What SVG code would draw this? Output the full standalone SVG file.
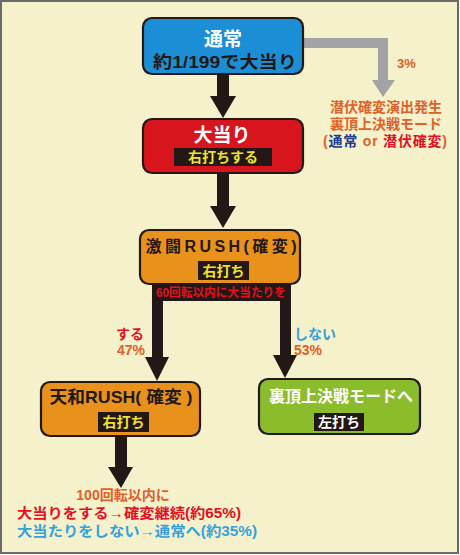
<svg xmlns="http://www.w3.org/2000/svg" width="460" height="555" viewBox="0 0 460 555">
<style>
text{font-family:"Liberation Sans","Noto Sans CJK JP",sans-serif;font-weight:bold;}
.node{stroke:#231815;stroke-width:2.2;}
.lbl{fill:#231815;}
.yl{fill:#F1E32B;font-size:14px;}
.wl{fill:#ffffff;font-size:14px;}
.ar{fill:#231815;}
.or{fill:#E0602A;}
.rd{fill:#E50F1F;}
.bl{fill:#35A2DD;}
</style>
<rect x="1" y="1" width="457" height="552" fill="#F4F1CB" stroke="#6b6b6b" stroke-width="2"/>

<g id="connectors">
  <polygon points="303,38 388,38 388,80 395,80 383,97 372,80 378,80 378,48 303,48" fill="#A3A3A3"/>
  <rect class="ar" x="217" y="74" width="12" height="23"/>
  <polygon class="ar" points="210,96 236,96 223,118"/>
  <rect class="ar" x="217" y="173" width="12" height="34"/>
  <polygon class="ar" points="210,206 236,206 223,228"/>
  <rect class="ar" x="152" y="284" width="139" height="17"/>
  <rect class="ar" x="152" y="300" width="11" height="58"/>
  <polygon class="ar" points="145,357 169,357 157,381"/>
  <rect class="ar" x="280" y="300" width="11" height="56"/>
  <polygon class="ar" points="273,355 297,355 285,378"/>
  <rect class="ar" x="115" y="436" width="12" height="32"/>
  <polygon class="ar" points="108,467 133,467 121,488"/>
  <text x="221" y="297" text-anchor="middle" font-size="12" class="rd" textLength="130" lengthAdjust="spacingAndGlyphs">60回転以内に大当たりを</text>
  <text x="397" y="68" font-size="13" class="or">3%</text>
  <text x="144" y="339" text-anchor="end" font-size="14" class="rd">する</text>
  <text x="145" y="355" text-anchor="end" font-size="14" class="or">47%</text>
  <text x="294" y="339" font-size="14" class="bl">しない</text>
  <text x="294" y="355" font-size="14" class="or">53%</text>
</g>

<g id="node-normal">
  <rect class="node" x="143" y="18" width="160" height="56" rx="9" fill="#1C8ED6"/>
  <text x="223" y="46" text-anchor="middle" font-size="19" fill="#ffffff">通常</text>
  <text x="225" y="68" text-anchor="middle" font-size="17" class="lbl" textLength="144" lengthAdjust="spacingAndGlyphs">約1/199で大当り</text>
</g>

<g id="node-senpuku">
  <text x="386" y="112" text-anchor="middle" font-size="14" class="or" textLength="112" lengthAdjust="spacingAndGlyphs">潜伏確変演出発生</text>
  <text x="386" y="129" text-anchor="middle" font-size="14" class="or" textLength="112" lengthAdjust="spacingAndGlyphs">裏頂上決戦モード</text>
  <text x="385" y="146" text-anchor="middle" font-size="14" class="or" textLength="124" lengthAdjust="spacing"><tspan>(</tspan><tspan fill="#1D3D94">通常</tspan><tspan> or </tspan><tspan fill="#E50F1F">潜伏確変</tspan><tspan>)</tspan></text>
</g>

<g id="node-oatari">
  <rect class="node" x="143" y="119" width="160" height="54" rx="9" fill="#D8141C"/>
  <text x="222" y="142" text-anchor="middle" font-size="19" fill="#ffffff">大当り</text>
  <rect x="174" y="148" width="98" height="18" fill="#231815"/>
  <text x="223" y="162" text-anchor="middle" class="yl">右打ちする</text>
</g>

<g id="node-gekito">
  <rect class="node" x="140" y="230" width="160" height="54" rx="9" fill="#E8921C"/>
  <text x="221" y="252" text-anchor="middle" font-size="16" class="lbl" textLength="151" lengthAdjust="spacing">激闘RUSH(確変)</text>
  <rect x="198" y="261" width="51" height="19" fill="#231815"/>
  <text x="223.500" y="276" text-anchor="middle" class="yl">右打ち</text>
</g>

<g id="node-tenwa">
  <rect class="node" x="41" y="382" width="159" height="54" rx="9" fill="#E8921C"/>
  <text x="121" y="403" text-anchor="middle" font-size="17" class="lbl" textLength="143" lengthAdjust="spacingAndGlyphs">天和RUSH( 確変 )</text>
  <rect x="98" y="412" width="51" height="20" fill="#231815"/>
  <text x="123.500" y="427" text-anchor="middle" class="yl">右打ち</text>
</g>

<g id="node-urachojo">
  <rect class="node" x="259" y="379" width="161" height="55" rx="9" fill="#8BBC2C"/>
  <text x="341" y="402" text-anchor="middle" font-size="16" fill="#ffffff" textLength="144" lengthAdjust="spacingAndGlyphs">裏頂上決戦モードへ</text>
  <rect x="314" y="413" width="50" height="18" fill="#231815"/>
  <text x="339" y="427" text-anchor="middle" class="wl">左打ち</text>
</g>

<g id="node-result">
  <text x="123" y="500" text-anchor="middle" font-size="14" class="or">100回転以内に</text>
  <text x="17" y="518" font-size="14" class="rd" textLength="224" lengthAdjust="spacingAndGlyphs">大当りをする→確変継続(約65%)</text>
  <text x="17" y="536" font-size="14" class="bl" textLength="240" lengthAdjust="spacingAndGlyphs">大当たりをしない→通常へ(約35%)</text>
</g>
</svg>
